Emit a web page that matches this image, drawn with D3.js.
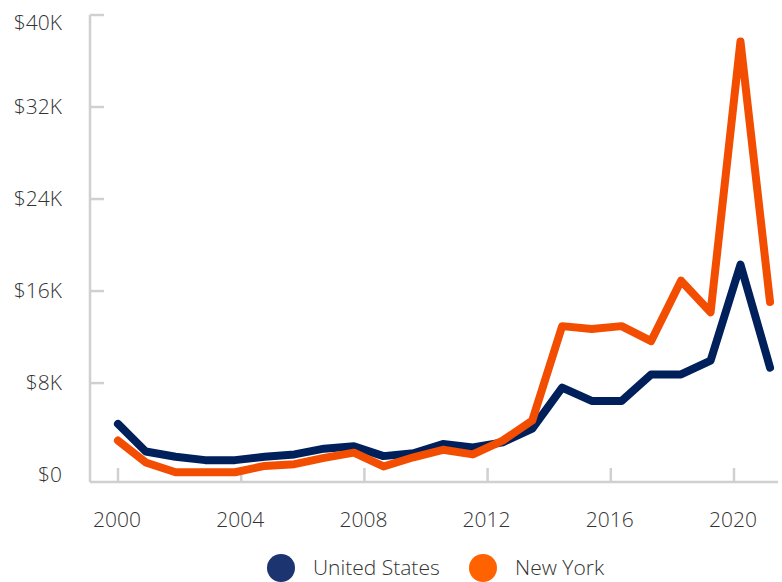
<!DOCTYPE html>
<html>
<head>
<meta charset="utf-8">
<script src="https://cdn.jsdelivr.net/npm/d3@7"></script>
<style>
  body { margin: 0; background: #fff; }
  svg { font-family: 'Open Sans', sans-serif; font-weight: 300; }
</style>
</head>
<body>
<div id="chart"></div>
<script>
const periods = [2000.00, 2000.90, 2001.87, 2002.83, 2003.80, 2004.76, 2005.73, 2006.69,
  2007.66, 2008.62, 2009.59, 2010.55, 2011.52, 2012.49, 2013.45, 2014.42, 2015.38,
  2016.35, 2017.31, 2018.28, 2019.24, 2020.21, 2021.17];

// values in dollars
const unitedStates = [4450, 2050, 1600, 1300, 1300, 1600, 1800, 2300, 2500, 1650, 1900, 2700,
  2400, 2850, 4050, 7600, 6450, 6450, 8750, 8750, 9950, 18300, 9350];
const newYork = [3000, 1100, 250, 250, 250, 800, 950, 1500, 1950, 750, 1550, 2200,
  1800, 3000, 4750, 12950, 12700, 12950, 11650, 16900, 14150, 37700, 15050];

const yTicks = [0, 8000, 16000, 24000, 32000, 40000];
const xTicks = [2000, 2004, 2008, 2012, 2016, 2020];

const seriesNames = ['United States', 'New York'];
const lineColors = ['#00205b', '#f24d00'];
const legendColors = ['#1c346f', '#ff6200'];

const width = 782, height = 582;
const axisColor = '#d0d0d0';
const textColor = '#333';

const svg = d3.select('#chart').append('svg')
  .attr('width', width)
  .attr('height', height);

const x = d3.scaleLinear().domain([2000, 2020]).range([118, 734]);
const y = d3.scaleLinear().domain([-600, 40000]).range([482, 15]);

// axis lines
svg.append('line')
  .attr('x1', 90).attr('x2', 90)
  .attr('y1', y(40000)).attr('y2', y(-600))
  .attr('stroke', axisColor).attr('stroke-width', 2.5);
svg.append('line')
  .attr('x1', 90).attr('x2', 778)
  .attr('y1', y(-600)).attr('y2', y(-600))
  .attr('stroke', axisColor).attr('stroke-width', 2.5);

// y ticks + labels
const yg = svg.append('g');
yg.selectAll('line')
  .data(yTicks.filter(d => d > 0))
  .join('line')
  .attr('x1', 90).attr('x2', 104)
  .attr('y1', d => y(d)).attr('y2', d => y(d))
  .attr('stroke', axisColor).attr('stroke-width', 2.5);
yg.selectAll('text')
  .data(yTicks)
  .join('text')
  .attr('x', 62)
  .attr('y', d => Math.max(y(d), 23))
  .attr('dy', '0.35em')
  .attr('text-anchor', 'end')
  .attr('font-size', 21)
  .attr('fill', textColor)
  .text(d => d === 0 ? '$0' : '$' + (d / 1000) + 'K');

// x ticks + labels
const xg = svg.append('g');
xg.selectAll('line')
  .data(xTicks)
  .join('line')
  .attr('x1', d => x(d)).attr('x2', d => x(d))
  .attr('y1', y(-600)).attr('y2', y(-600) - 14)
  .attr('stroke', axisColor).attr('stroke-width', 2.5);
xg.selectAll('text')
  .data(xTicks)
  .join('text')
  .attr('x', d => x(d) - 1)
  .attr('y', 527)
  .attr('text-anchor', 'middle')
  .attr('font-size', 21)
  .attr('fill', textColor)
  .text(d => d);

// lines
const line = d3.line()
  .x((d, i) => x(periods[i]))
  .y(d => y(d));

[unitedStates, newYork].forEach((vals, i) => {
  svg.append('path')
    .datum(vals)
    .attr('fill', 'none')
    .attr('stroke', lineColors[i])
    .attr('stroke-width', 8)
    .attr('stroke-linejoin', 'round')
    .attr('stroke-linecap', 'round')
    .attr('d', line);
});

// legend
const legendX = [281, 483];
const legend = svg.append('g');
seriesNames.forEach((name, i) => {
  legend.append('circle')
    .attr('cx', legendX[i]).attr('cy', 568)
    .attr('r', 14)
    .attr('fill', legendColors[i]);
  legend.append('text')
    .attr('x', legendX[i] + 32)
    .attr('y', 575)
    .attr('font-size', 21)
    .attr('fill', textColor)
    .text(name);
});
</script>
</body>
</html>
